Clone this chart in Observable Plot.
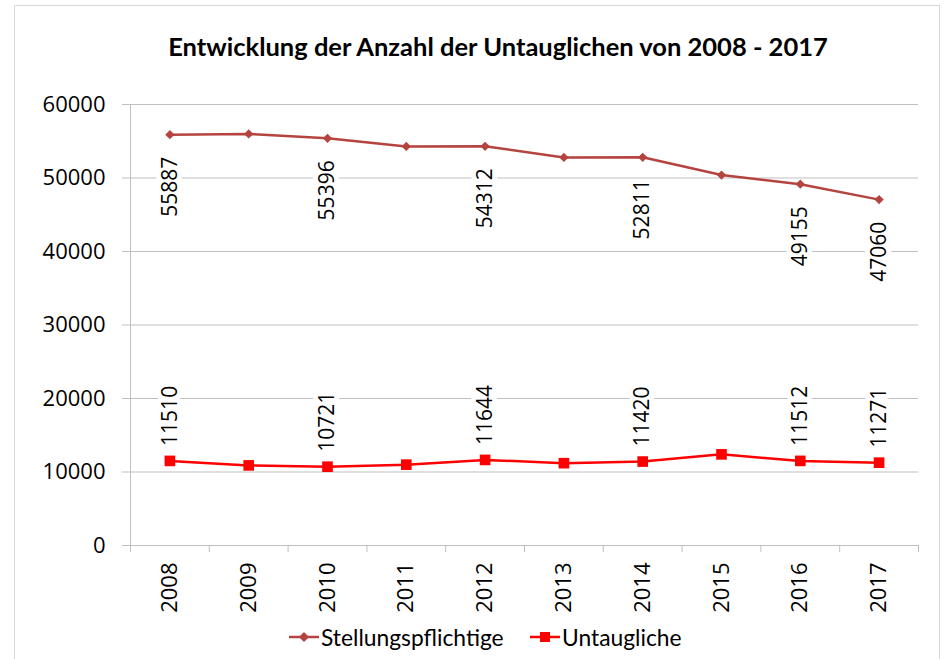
<!DOCTYPE html>
<html>
<head>
<meta charset="utf-8">
<script src="https://cdn.jsdelivr.net/npm/d3@7"></script>
<script src="https://cdn.jsdelivr.net/npm/@observablehq/plot@0.6"></script>
<style>
  html, body { margin: 0; padding: 0; background: #fff; }
  #wrap { position: relative; width: 950px; height: 659px; overflow: hidden; background: #fff; }
  #frame { position: absolute; left: 14px; top: 5px; width: 926px; height: 720px; border: 1px solid #d9d9d9; box-sizing: border-box; }
  #chart { position: absolute; left: 0; top: 0; }
  #title { position: absolute; left: 0; width: 996px; top: 31px; text-align: center; font-family: Lato, "Open Sans", sans-serif; font-weight: bold; font-size: 25.5px; color: #000; }
  .leg { position: absolute; top: 623px; height: 28px; display: flex; align-items: center; font-family: Lato, "Open Sans", sans-serif; font-size: 22.8px; color: #000; }
  .leg svg { margin-right: 2px; }
</style>
</head>
<body>
<div id="wrap">
  <div id="frame"></div>
  <div id="chart"></div>
  <div id="title">Entwicklung der Anzahl der Untauglichen von 2008 - 2017</div>
  <div class="leg" id="leg1" style="left:289px"></div>
  <div class="leg" id="leg2" style="left:530px"></div>
</div>
<script>
// ---- data ----
const years = [2008, 2009, 2010, 2011, 2012, 2013, 2014, 2015, 2016, 2017];
const stellungspflichtige = [55887, 56000, 55396, 54300, 54312, 52800, 52811, 50400, 49155, 47060];
const untaugliche = [11510, 10900, 10721, 11000, 11644, 11200, 11420, 12400, 11512, 11271];
const stellLabelYears = [2008, 2010, 2012, 2014, 2016, 2017];
const untLabelYears = [2008, 2010, 2012, 2014, 2016, 2017];
const yTicks = [0, 10000, 20000, 30000, 40000, 50000, 60000];
const seriesNames = ["Stellungspflichtige", "Untaugliche"];
const colors = ["#b5433f", "#ff0000"];

const s1 = years.map((y, i) => ({year: y, value: stellungspflichtige[i]}));
const s2 = years.map((y, i) => ({year: y, value: untaugliche[i]}));
const s1Lab = s1.filter(d => stellLabelYears.includes(d.year));
const s2Lab = s2.filter(d => untLabelYears.includes(d.year));
const bounds = [...years.map(y => y - 0.5), years[years.length - 1] + 0.5];

const diamond = {
  draw(ctx, size) {
    const h = Math.sqrt(size / 2);
    ctx.moveTo(0, -h); ctx.lineTo(h, 0); ctx.lineTo(0, h); ctx.lineTo(-h, 0); ctx.closePath();
  }
};

const grid = "#bfbfbf";
const font = "'Open Sans', sans-serif";

const chart = Plot.plot({
  width: 950,
  height: 659,
  marginTop: 104,
  marginBottom: 114,
  marginLeft: 130,
  marginRight: 32,
  style: {fontFamily: font, background: "transparent", color: "#000"},
  x: {type: "linear", domain: [bounds[0], bounds[bounds.length - 1]]},
  y: {domain: [0, 60000]},
  marks: [
    Plot.gridY(yTicks, {stroke: grid, strokeOpacity: 1}),
    Plot.axisY(yTicks, {tickFormat: d => String(d), tickSize: 8, tickPadding: 17, fontSize: 22, stroke: grid, strokeOpacity: 1, label: null, fill: "#000"}),
    Plot.ruleX([bounds[0]], {stroke: grid}),
    Plot.ruleY([0], {stroke: grid}),
    Plot.axisX(bounds, {tickSize: 7, tickFormat: () => "", stroke: grid, strokeOpacity: 1, label: null}),
    Plot.axisX(years, {tickSize: 0, tickPadding: 17, tickRotate: -90, tickFormat: d => String(d), fontSize: 22, label: null, fill: "#000"}),
    Plot.line(s1, {x: "year", y: "value", stroke: colors[0], strokeWidth: 2.5}),
    Plot.dot(s1, {x: "year", y: "value", symbol: diamond, r: 3.7, fill: colors[0], stroke: null}),
    Plot.line(s2, {x: "year", y: "value", stroke: colors[1], strokeWidth: 2.5}),
    Plot.dot(s2, {x: "year", y: "value", symbol: "square", r: 6, fill: colors[1], stroke: null}),
    Plot.text(s1Lab, {x: "year", y: "value", text: d => String(d.value), rotate: -90, textAnchor: "end", lineAnchor: "middle", dy: 22, fontSize: 21, fill: "#000", stroke: "white", strokeWidth: 10}),
    Plot.text(s2Lab, {x: "year", y: "value", text: d => String(d.value), rotate: -90, textAnchor: "start", lineAnchor: "middle", dy: -15, fontSize: 21, fill: "#000", stroke: "white", strokeWidth: 10})
  ]
});
document.getElementById("chart").appendChild(chart);

// legend
function swatch(color, kind) {
  const ns = "http://www.w3.org/2000/svg";
  const svg = document.createElementNS(ns, "svg");
  svg.setAttribute("width", 30); svg.setAttribute("height", 14);
  const line = document.createElementNS(ns, "line");
  line.setAttribute("x1", 0); line.setAttribute("x2", 30); line.setAttribute("y1", 7); line.setAttribute("y2", 7);
  line.setAttribute("stroke", color); line.setAttribute("stroke-width", 2.5);
  svg.appendChild(line);
  const m = document.createElementNS(ns, "path");
  m.setAttribute("d", kind === "diamond" ? "M15,2L20,7L15,12L10,7Z" : "M10,2H20V12H10Z");
  m.setAttribute("fill", color);
  svg.appendChild(m);
  return svg;
}
const l1 = document.getElementById("leg1");
l1.appendChild(swatch(colors[0], "diamond"));
l1.appendChild(document.createTextNode(seriesNames[0]));
const l2 = document.getElementById("leg2");
l2.appendChild(swatch(colors[1], "square"));
l2.appendChild(document.createTextNode(seriesNames[1]));
</script>
</body>
</html>
